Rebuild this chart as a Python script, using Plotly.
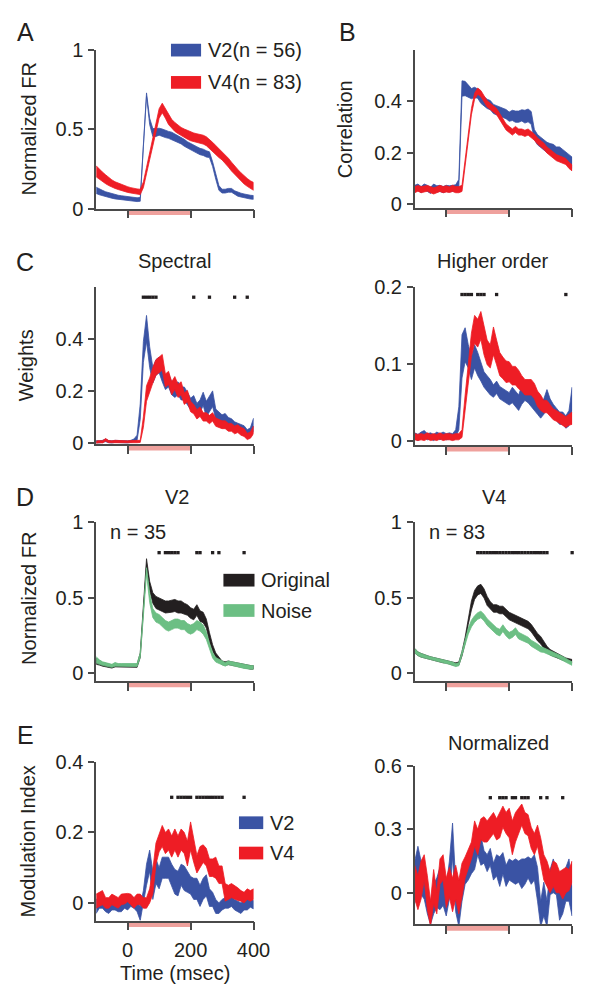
import plotly.graph_objects as go

# ---------------- data ----------------
T = list(range(-100, 401, 10))          # time (msec), 10 ms bins
STIM = [0, 200]                         # stimulus period

A_V2_mean = [0.115,0.105,0.098,0.090,0.085,0.080,0.075,0.070,0.068,0.065,
             0.062,0.060,0.058,0.056,0.058,0.400,0.720,0.550,0.480,0.480,
             0.485,0.480,0.470,0.465,0.460,0.450,0.440,0.430,0.415,0.400,
             0.390,0.380,0.370,0.360,0.355,0.345,0.340,0.280,0.200,0.130,
             0.110,0.110,0.115,0.115,0.100,0.090,0.085,0.080,0.075,0.072,0.070]
A_V2_sem = [0.020,0.018,0.017,0.016,0.015,0.015,0.014,0.014,0.013,0.013,
            0.013,0.013,0.012,0.012,0.012,0.010,0.010,0.020,0.025,0.025,
            0.022,0.022,0.022,0.022,0.022,0.022,0.022,0.022,0.022,0.022,
            0.020,0.020,0.020,0.020,0.020,0.020,0.018,0.015,0.015,0.015,
            0.012,0.012,0.012,0.012,0.012,0.012,0.012,0.012,0.012,0.012,0.012]
A_V4_mean = [0.235,0.215,0.200,0.185,0.170,0.158,0.148,0.140,0.132,0.125,
             0.120,0.115,0.110,0.107,0.105,0.150,0.240,0.330,0.420,0.520,
             0.600,0.635,0.600,0.560,0.535,0.515,0.500,0.485,0.475,0.465,
             0.455,0.450,0.445,0.440,0.435,0.425,0.410,0.390,0.370,0.350,
             0.335,0.315,0.290,0.265,0.240,0.220,0.200,0.180,0.165,0.150,0.140]
A_V4_sem = [0.035,0.032,0.030,0.028,0.025,0.023,0.021,0.020,0.019,0.018,
            0.018,0.017,0.017,0.017,0.017,0.018,0.020,0.022,0.025,0.028,
            0.030,0.030,0.030,0.030,0.028,0.028,0.027,0.027,0.027,0.027,
            0.027,0.027,0.027,0.028,0.028,0.028,0.028,0.028,0.028,0.028,
            0.028,0.028,0.028,0.028,0.027,0.027,0.026,0.025,0.025,0.025,0.025]

B_V2_mean = [0.060,0.065,0.055,0.065,0.060,0.052,0.065,0.058,0.060,0.055,
             0.060,0.058,0.060,0.062,0.080,0.450,0.450,0.440,0.430,0.435,
             0.430,0.410,0.400,0.390,0.385,0.370,0.365,0.360,0.355,0.350,
             0.340,0.345,0.340,0.340,0.345,0.340,0.345,0.335,0.270,0.250,
             0.240,0.230,0.220,0.215,0.210,0.200,0.200,0.190,0.180,0.170,0.160]
B_V2_sem = [0.012,0.012,0.012,0.012,0.012,0.012,0.012,0.012,0.012,0.012,
            0.012,0.012,0.012,0.012,0.015,0.030,0.028,0.025,0.020,0.020,
            0.018,0.018,0.018,0.018,0.018,0.018,0.018,0.018,0.018,0.018,
            0.018,0.020,0.022,0.022,0.022,0.025,0.025,0.025,0.020,0.020,
            0.020,0.020,0.020,0.020,0.022,0.022,0.022,0.022,0.022,0.022,0.022]
B_V4_mean = [0.055,0.060,0.055,0.058,0.060,0.055,0.050,0.055,0.060,0.055,
             0.058,0.055,0.060,0.055,0.055,0.060,0.150,0.260,0.360,0.420,
             0.440,0.430,0.410,0.390,0.380,0.370,0.360,0.340,0.320,0.300,
             0.290,0.280,0.290,0.280,0.280,0.275,0.280,0.270,0.260,0.245,
             0.235,0.225,0.210,0.200,0.190,0.180,0.175,0.170,0.165,0.150,0.140]
B_V4_sem = [0.012,0.011,0.012,0.012,0.011,0.012,0.012,0.011,0.012,0.012,
            0.012,0.011,0.012,0.012,0.012,0.012,0.012,0.012,0.012,0.012,
            0.012,0.012,0.012,0.012,0.012,0.012,0.012,0.012,0.012,0.012,
            0.012,0.012,0.012,0.012,0.012,0.012,0.012,0.012,0.012,0.012,
            0.012,0.012,0.012,0.012,0.012,0.012,0.012,0.012,0.012,0.012,0.012]

CS_V2_mean = [0.005,0.004,0.006,0.010,0.005,0.004,0.006,0.005,0.004,0.005,
              0.004,0.006,0.010,0.020,0.120,0.350,0.440,0.330,0.260,0.290,
              0.300,0.260,0.230,0.240,0.210,0.200,0.210,0.190,0.190,0.170,
              0.150,0.160,0.130,0.140,0.170,0.130,0.150,0.170,0.110,0.100,
              0.090,0.095,0.080,0.075,0.065,0.060,0.055,0.050,0.035,0.040,0.070]
CS_V2_sem = [0.004,0.004,0.004,0.005,0.004,0.004,0.004,0.004,0.004,0.004,
             0.004,0.004,0.005,0.010,0.030,0.040,0.050,0.040,0.030,0.030,
             0.030,0.025,0.025,0.025,0.025,0.025,0.025,0.025,0.025,0.025,
             0.022,0.022,0.022,0.025,0.025,0.030,0.030,0.030,0.020,0.018,
             0.018,0.018,0.018,0.018,0.016,0.016,0.016,0.016,0.016,0.018,0.025]
CS_V4_mean = [0.003,0.005,0.004,0.012,0.005,0.004,0.006,0.005,0.004,0.005,
              0.004,0.005,0.005,0.005,0.006,0.080,0.190,0.220,0.260,0.290,
              0.300,0.310,0.240,0.250,0.210,0.230,0.200,0.210,0.170,0.180,
              0.140,0.130,0.110,0.120,0.100,0.100,0.090,0.100,0.080,0.075,
              0.070,0.070,0.060,0.060,0.050,0.055,0.045,0.040,0.025,0.030,0.050]
CS_V4_sem = [0.004,0.004,0.004,0.005,0.004,0.004,0.004,0.004,0.004,0.004,
             0.004,0.004,0.004,0.004,0.004,0.020,0.030,0.030,0.030,0.030,
             0.030,0.030,0.025,0.025,0.025,0.025,0.025,0.025,0.022,0.022,
             0.020,0.018,0.018,0.018,0.016,0.016,0.016,0.016,0.016,0.016,
             0.015,0.015,0.015,0.015,0.015,0.015,0.015,0.015,0.012,0.012,0.015]

CH_V2_mean = [0.007,0.005,0.008,0.010,0.006,0.007,0.005,0.008,0.006,0.008,
              0.006,0.007,0.006,0.010,0.030,0.110,0.125,0.110,0.095,0.110,
              0.100,0.090,0.080,0.075,0.070,0.065,0.070,0.063,0.060,0.058,
              0.055,0.060,0.055,0.050,0.060,0.065,0.060,0.055,0.050,0.045,
              0.040,0.045,0.055,0.045,0.040,0.035,0.030,0.030,0.025,0.030,0.055]
CH_V2_sem = [0.004,0.004,0.004,0.004,0.004,0.004,0.004,0.004,0.004,0.004,
             0.004,0.004,0.004,0.005,0.015,0.028,0.022,0.015,0.015,0.015,
             0.015,0.012,0.010,0.010,0.010,0.008,0.008,0.008,0.008,0.008,
             0.008,0.010,0.010,0.010,0.012,0.012,0.010,0.010,0.010,0.010,
             0.010,0.010,0.012,0.010,0.008,0.008,0.008,0.008,0.008,0.010,0.015]
CH_V4_mean = [0.006,0.005,0.006,0.005,0.007,0.005,0.006,0.005,0.007,0.005,
              0.006,0.006,0.005,0.006,0.006,0.010,0.050,0.090,0.125,0.145,
              0.140,0.150,0.130,0.115,0.110,0.130,0.115,0.100,0.095,0.090,
              0.090,0.085,0.085,0.080,0.075,0.070,0.070,0.070,0.065,0.055,
              0.050,0.045,0.045,0.040,0.035,0.033,0.030,0.028,0.025,0.028,0.030]
CH_V4_sem = [0.004,0.004,0.004,0.004,0.004,0.004,0.004,0.004,0.004,0.004,
             0.004,0.004,0.004,0.004,0.004,0.005,0.010,0.012,0.015,0.018,
             0.018,0.018,0.018,0.016,0.015,0.018,0.016,0.015,0.014,0.014,
             0.013,0.012,0.012,0.012,0.010,0.010,0.010,0.010,0.010,0.010,
             0.010,0.008,0.008,0.008,0.007,0.007,0.007,0.007,0.007,0.007,0.008]

D2_ORIG_mean = [0.080,0.070,0.060,0.055,0.050,0.045,0.055,0.050,0.050,0.052,
                0.050,0.050,0.050,0.050,0.120,0.420,0.740,0.580,0.500,0.470,
                0.460,0.450,0.440,0.440,0.445,0.450,0.440,0.440,0.430,0.420,
                0.400,0.390,0.420,0.380,0.370,0.330,0.240,0.170,0.120,0.090,
                0.070,0.065,0.070,0.065,0.060,0.060,0.055,0.050,0.045,0.040,0.040]
D2_ORIG_sem = [0.020,0.015,0.012,0.012,0.012,0.010,0.012,0.010,0.010,0.010,
               0.010,0.010,0.010,0.010,0.015,0.020,0.020,0.030,0.035,0.040,
               0.040,0.040,0.040,0.040,0.040,0.040,0.040,0.040,0.035,0.035,
               0.035,0.035,0.035,0.035,0.035,0.030,0.030,0.020,0.015,0.015,
               0.012,0.012,0.012,0.012,0.012,0.012,0.012,0.012,0.012,0.012,0.012]
D2_NOISE_mean = [0.090,0.075,0.065,0.060,0.055,0.050,0.060,0.055,0.055,0.055,
                 0.055,0.055,0.055,0.055,0.120,0.400,0.680,0.500,0.400,0.370,
                 0.360,0.340,0.320,0.310,0.320,0.330,0.330,0.320,0.320,0.300,
                 0.290,0.300,0.320,0.310,0.290,0.250,0.180,0.120,0.090,0.080,
                 0.070,0.060,0.070,0.065,0.060,0.055,0.050,0.045,0.040,0.040,0.040]
D2_NOISE_sem = [0.020,0.015,0.012,0.012,0.012,0.010,0.012,0.010,0.010,0.010,
                0.010,0.010,0.010,0.010,0.015,0.020,0.020,0.030,0.030,0.030,
                0.030,0.030,0.030,0.030,0.030,0.030,0.030,0.030,0.030,0.030,
                0.030,0.030,0.030,0.030,0.030,0.025,0.020,0.018,0.015,0.015,
                0.012,0.012,0.012,0.012,0.012,0.012,0.012,0.012,0.012,0.012,0.012]

D4_ORIG_mean = [0.150,0.130,0.120,0.115,0.105,0.100,0.095,0.090,0.085,0.080,
                0.078,0.072,0.065,0.060,0.065,0.130,0.220,0.350,0.450,0.520,
                0.550,0.560,0.530,0.480,0.450,0.430,0.430,0.420,0.420,0.400,
                0.380,0.370,0.360,0.350,0.340,0.330,0.320,0.300,0.270,0.240,
                0.220,0.190,0.160,0.140,0.130,0.120,0.110,0.100,0.090,0.085,0.080]
D4_ORIG_sem = [0.015,0.012,0.012,0.012,0.012,0.010,0.010,0.010,0.010,0.010,
               0.010,0.010,0.010,0.010,0.010,0.015,0.020,0.025,0.030,0.030,
               0.030,0.030,0.030,0.030,0.025,0.025,0.025,0.025,0.025,0.025,
               0.025,0.025,0.025,0.025,0.025,0.025,0.025,0.025,0.025,0.025,
               0.025,0.022,0.020,0.018,0.016,0.015,0.014,0.013,0.012,0.012,0.012]
D4_NOISE_mean = [0.150,0.130,0.120,0.110,0.105,0.100,0.095,0.090,0.085,0.080,
                 0.075,0.070,0.065,0.055,0.060,0.130,0.210,0.280,0.330,0.360,
                 0.380,0.390,0.370,0.340,0.320,0.300,0.280,0.270,0.300,0.270,
                 0.250,0.260,0.280,0.250,0.240,0.230,0.220,0.200,0.190,0.175,
                 0.160,0.155,0.145,0.135,0.125,0.120,0.110,0.100,0.085,0.075,0.065]
D4_NOISE_sem = [0.015,0.012,0.012,0.012,0.012,0.010,0.010,0.010,0.010,0.010,
                0.010,0.010,0.010,0.010,0.010,0.015,0.020,0.020,0.022,0.022,
                0.022,0.022,0.022,0.022,0.022,0.022,0.022,0.022,0.022,0.022,
                0.022,0.022,0.022,0.022,0.022,0.020,0.020,0.020,0.020,0.020,
                0.018,0.016,0.015,0.015,0.014,0.013,0.012,0.012,0.012,0.012,0.012]

EM_V2_mean = [-0.010,0.000,0.000,-0.010,-0.015,-0.005,-0.005,-0.010,-0.010,0.000,
              -0.005,0.005,0.000,-0.010,-0.030,0.015,0.080,0.120,0.050,0.090,
              0.070,0.100,0.100,0.100,0.080,0.060,0.055,0.080,0.070,0.060,
              0.050,0.040,0.040,0.020,0.040,0.050,0.015,0.010,-0.010,-0.015,
              -0.005,0.000,0.000,0.005,-0.005,-0.010,-0.015,-0.005,-0.005,0.000,-0.005]
EM_V2_sem = [0.020,0.015,0.015,0.015,0.015,0.015,0.015,0.015,0.015,0.015,
             0.015,0.015,0.015,0.015,0.020,0.020,0.030,0.030,0.040,0.035,
             0.030,0.030,0.030,0.030,0.030,0.035,0.035,0.030,0.035,0.030,
             0.025,0.030,0.030,0.030,0.030,0.030,0.025,0.020,0.020,0.015,
             0.015,0.015,0.015,0.015,0.015,0.015,0.015,0.015,0.015,0.012,0.012]
EM_V4_mean = [0.005,0.010,0.015,0.000,0.000,0.010,0.005,0.000,0.010,0.012,
              0.015,0.010,0.000,0.010,0.010,0.000,0.000,0.020,0.060,0.140,
              0.170,0.190,0.170,0.180,0.160,0.180,0.160,0.180,0.170,0.140,
              0.190,0.150,0.110,0.130,0.140,0.130,0.100,0.100,0.100,0.080,
              0.080,0.030,0.030,0.035,0.030,0.025,0.020,0.015,0.025,0.020,0.025]
EM_V4_sem = [0.020,0.020,0.020,0.015,0.015,0.015,0.015,0.015,0.015,0.015,
             0.012,0.015,0.015,0.015,0.015,0.015,0.015,0.020,0.035,0.030,
             0.025,0.030,0.030,0.030,0.030,0.030,0.030,0.030,0.030,0.035,
             0.040,0.035,0.025,0.030,0.025,0.025,0.025,0.025,0.030,0.025,
             0.025,0.025,0.020,0.020,0.020,0.018,0.015,0.015,0.015,0.015,0.015]

EN_V2_mean = [0.050,0.150,0.070,0.050,-0.050,-0.100,-0.030,0.000,0.020,0.000,
              -0.040,0.060,0.250,-0.020,-0.100,0.030,0.100,0.100,0.150,0.170,
              0.240,0.200,0.170,0.140,0.170,0.100,0.130,0.100,0.140,0.080,
              0.110,0.100,0.100,0.100,0.090,0.100,0.120,0.100,0.120,0.040,
              -0.100,-0.030,-0.100,0.050,0.080,0.050,-0.050,-0.020,0.040,0.060,-0.040]
EN_V2_sem = [0.10,0.07,0.08,0.08,0.05,0.05,0.07,0.07,0.10,0.06,
             0.07,0.09,0.08,0.07,0.06,0.07,0.06,0.04,0.06,0.06,
             0.06,0.07,0.03,0.04,0.04,0.04,0.05,0.07,0.05,0.05,
             0.05,0.05,0.06,0.05,0.07,0.06,0.05,0.06,0.06,0.08,
             0.06,0.08,0.06,0.06,0.08,0.06,0.08,0.08,0.08,0.10,0.07]
EN_V4_mean = [0.050,0.000,0.060,0.120,0.000,-0.100,0.030,-0.050,0.100,0.120,
              0.000,0.050,-0.010,0.050,-0.020,0.060,0.120,0.160,0.200,0.280,
              0.240,0.300,0.300,0.290,0.310,0.330,0.300,0.320,0.360,0.330,
              0.330,0.260,0.310,0.340,0.370,0.330,0.320,0.260,0.230,0.270,
              0.200,0.120,0.090,0.050,0.090,0.070,0.050,0.040,0.060,0.060,0.100]
EN_V4_sem = [0.08,0.08,0.09,0.06,0.08,0.06,0.08,0.05,0.06,0.06,
             0.07,0.07,0.08,0.08,0.08,0.08,0.05,0.05,0.04,0.06,
             0.06,0.05,0.06,0.05,0.05,0.05,0.05,0.06,0.05,0.05,
             0.07,0.08,0.07,0.06,0.05,0.05,0.05,0.05,0.05,0.05,
             0.06,0.06,0.06,0.05,0.06,0.07,0.05,0.07,0.06,0.05,0.05]

# significance markers (time bins)
SIG_CS = [50, 60, 70, 80, 90, 210, 260, 340, 380]
SIG_CH = [50, 60, 70, 80, 100, 110, 120, 160, 380]
SIG_D2 = [100, 120, 130, 140, 150, 160, 220, 230, 270, 290, 370]
SIG_D4 = [100, 110, 120, 130, 140, 150, 160, 170, 180, 190, 200, 210, 220,
          230, 240, 250, 260, 270, 280, 290, 300, 310, 320, 400]
SIG_EM = [140, 160, 170, 180, 190, 200, 220, 230, 240, 250, 260, 270, 280, 290, 300, 370]
SIG_EN = [140, 170, 180, 190, 210, 220, 240, 250, 260, 300, 320, 370]

# ---------------- style ----------------
BLUE = '#3A53A4'
RED = '#EE1D25'
BLACK = '#231F20'
GREEN = '#6CBF84'
PINK = '#EFA19D'
AXIS = '#4A4A4A'
TXT = '#231F20'
FONT = 'Liberation Sans, Arial, Helvetica, sans-serif'
FS = 20

W, H = 594, 999
def px(x): return x / W
def py(y): return 1 - y / H

fig = go.Figure()

# panel id: (x left px, x right px, y top px, y bottom px, yrange, tickvals, ticktext, show x labels)
panels = {
    1: (99, 261, 40, 202, [0, 1], [0, 0.5, 1], ['0', '0.5', '1'], False),
    2: (427, 589, 40, 201, [-0.015, 0.6], [0, 0.2, 0.4], ['0', '0.2', '0.4'], False),
    3: (99, 261, 282, 443, [-0.005, 0.6], [0, 0.2, 0.4], ['0', '0.2', '0.4'], False),
    4: (427, 589, 282, 444, [-0.005, 0.2], [0, 0.1, 0.2], ['0', '0.1', '0.2'], False),
    5: (99, 261, 523, 685, [-0.05, 1], [0, 0.5, 1], ['0', '0.5', '1'], False),
    6: (427, 589, 523, 685, [-0.05, 1], [0, 0.5, 1], ['0', '0.5', '1'], False),
    7: (99, 261, 768, 930, [-0.05, 0.4], [0, 0.2, 0.4], ['0', '0.2', '0.4'], True),
    8: (427, 589, 772, 934, [-0.15, 0.6], [0, 0.3, 0.6], ['0', '0.3', '0.6'], False),
}

def axname(i, a):
    return a if i == 1 else f'{a}{i}'

for i, (xl, xr, yt, yb, yr, tv, tt, showx) in panels.items():
    fig.layout[axname(i, 'xaxis')] = dict(
        domain=[px(xl), px(xr)], range=[-100, 400], anchor=axname(i, 'y'),
        showline=True, linecolor=AXIS, linewidth=1.6, mirror=False,
        ticks='outside', ticklen=8, tickwidth=1.6, tickcolor=AXIS,
        tickvals=[0, 200, 400], ticktext=['0', '200', '400'],
        showticklabels=showx, showgrid=False, zeroline=False,
        tickfont=dict(family=FONT, size=FS, color=TXT), ticklabelstandoff=3)
    fig.layout[axname(i, 'yaxis')] = dict(
        domain=[py(yb), py(yt)], range=yr, anchor=axname(i, 'x'),
        showline=True, linecolor=AXIS, linewidth=1.6,
        ticks='outside', ticklen=6, tickwidth=1.6, tickcolor=AXIS,
        tickvals=tv, ticktext=tt, showgrid=False, zeroline=False,
        tickfont=dict(family=FONT, size=FS, color=TXT), ticklabelstandoff=1)
    # stimulus bar below the time axis
    ph = yb - yt
    fig.add_shape(type='rect', xref=axname(i, 'x'), yref=f'{axname(i, "y")} domain',
                  x0=STIM[0], x1=STIM[1], y0=-1.5 / ph, y1=-6.5 / ph,
                  fillcolor=PINK, line=dict(width=0), layer='below')


def add_band(i, mean, sem, color):
    up = [m + s for m, s in zip(mean, sem)]
    lo = [m - s for m, s in zip(mean, sem)]
    fig.add_trace(go.Scatter(
        x=T + T[::-1], y=up + lo[::-1], fill='toself', fillcolor=color,
        mode='lines', line=dict(color=color, width=0.8), hoverinfo='skip',
        showlegend=False, xaxis=axname(i, 'x'), yaxis=axname(i, 'y')))


def add_sig(i, times, level):
    fig.add_trace(go.Scatter(
        x=times, y=[level] * len(times), mode='markers',
        marker=dict(symbol='square', size=3.3, color=BLACK, line=dict(width=0)),
        hoverinfo='skip', showlegend=False, cliponaxis=False,
        xaxis=axname(i, 'x'), yaxis=axname(i, 'y')))


add_band(1, A_V2_mean, A_V2_sem, BLUE)
add_band(1, A_V4_mean, A_V4_sem, RED)
add_band(2, B_V2_mean, B_V2_sem, BLUE)
add_band(2, B_V4_mean, B_V4_sem, RED)
add_band(3, CS_V2_mean, CS_V2_sem, BLUE)
add_band(3, CS_V4_mean, CS_V4_sem, RED)
add_band(4, CH_V2_mean, CH_V2_sem, BLUE)
add_band(4, CH_V4_mean, CH_V4_sem, RED)
add_band(5, D2_ORIG_mean, D2_ORIG_sem, BLACK)
add_band(5, D2_NOISE_mean, D2_NOISE_sem, GREEN)
add_band(6, D4_ORIG_mean, D4_ORIG_sem, BLACK)
add_band(6, D4_NOISE_mean, D4_NOISE_sem, GREEN)
add_band(7, EM_V2_mean, EM_V2_sem, BLUE)
add_band(7, EM_V4_mean, EM_V4_sem, RED)
add_band(8, EN_V2_mean, EN_V2_sem, BLUE)
add_band(8, EN_V4_mean, EN_V4_sem, RED)

add_sig(3, SIG_CS, 0.56)
add_sig(4, SIG_CH, 0.19)
add_sig(5, SIG_D2, 0.80)
add_sig(6, SIG_D4, 0.80)
add_sig(7, SIG_EM, 0.30)
add_sig(8, SIG_EN, 0.45)

# ---------------- annotations ----------------
def text(x, y, s, size=FS, angle=0, xanchor='center'):
    fig.add_annotation(x=px(x), y=py(y), xref='paper', yref='paper', text=s,
                       showarrow=False, textangle=angle, xanchor=xanchor,
                       yanchor='middle', font=dict(family=FONT, size=size, color=TXT))

for s, x, y in [('A', 26, 21), ('B', 358, 21), ('C', 26, 257), ('D', 26, 497), ('E', 26, 740)]:
    text(x, y, s, size=25)

text(180, 256, 'Spectral')
text(508, 256, 'Higher order')
text(182, 497, 'V2')
text(509, 497, 'V4')
text(513, 748, 'Normalized')

text(30, 121, 'Normalized FR', angle=-90)
text(355, 121, 'Correlation', angle=-90)
text(27, 362, 'Weights', angle=-90)
text(30, 601, 'Normalized FR', angle=-90)
text(29, 849, 'Modulation Index', angle=-90)

text(142, 533, 'n = 35')
text(470, 533, 'n = 83')
text(180, 984, 'Time (msec)')

# legends
def legend_item(x0, x1, yc, color, label):
    fig.add_shape(type='rect', xref='paper', yref='paper',
                  x0=px(x0), x1=px(x1), y0=py(yc + 6.5), y1=py(yc - 6.5),
                  fillcolor=color, line=dict(width=0))
    text(x1 + 5, yc, label, xanchor='left')

legend_item(176, 207, 40, BLUE, 'V2(n = 56)')
legend_item(176, 207, 73, RED, 'V4(n = 83)')
legend_item(230, 262, 582, BLACK, 'Original')
legend_item(230, 262, 613, GREEN, 'Noise')
legend_item(246, 271, 830, BLUE, 'V2')
legend_item(246, 271, 861, RED, 'V4')

fig.update_layout(width=W, height=H, margin=dict(l=0, r=0, t=0, b=0),
                  paper_bgcolor='white', plot_bgcolor='rgba(0,0,0,0)',
                  showlegend=False)

fig.write_html('out.html')
